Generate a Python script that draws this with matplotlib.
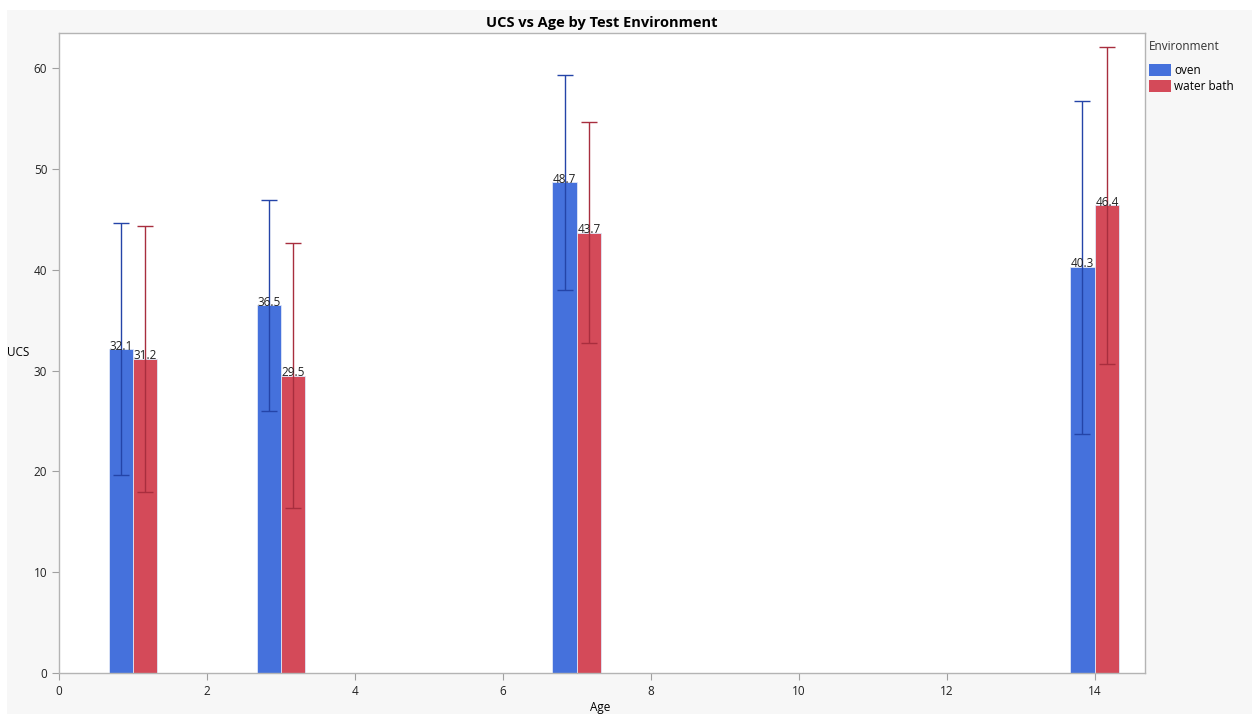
import matplotlib
matplotlib.use("Agg")
import matplotlib.pyplot as plt
import numpy as np
from matplotlib.patches import Patch, Rectangle

# data
ages = [1, 3, 7, 14]
environments = ["oven", "water bath"]
ucs_oven = [32.1, 36.5, 48.7, 40.3]
ucs_water = [31.2, 29.5, 43.7, 46.4]
oven_lo = [19.6, 26.0, 38.0, 23.7]
oven_hi = [44.6, 46.9, 59.3, 56.8]
water_lo = [18.0, 16.4, 32.7, 30.7]
water_hi = [44.4, 42.7, 54.7, 62.1]

bar_colors = ["#4571DC", "#D44A59"]
err_colors = ["#2444A8", "#A82E3E"]
bar_w = 0.33

plt.rcParams['font.family'] = ['Open Sans', 'DejaVu Sans']

fig = plt.figure(figsize=(12.52, 7.15), dpi=100)
fig.patch.set_facecolor("white")
# light grey panel behind the plot, like the report frame
fig.add_artist(Rectangle((7 / 1252, 1 / 715), 1 - 7 / 1252, 704 / 715,
                         transform=fig.transFigure, facecolor="#f7f7f7",
                         edgecolor="none", zorder=-10))

ax = fig.add_axes([59 / 1252, 42 / 715, (1145 - 59) / 1252, (673 - 33) / 715])
ax.set_facecolor("white")

x = np.array(ages, dtype=float)
series = [
    (x - bar_w / 2, ucs_oven, oven_lo, oven_hi),
    (x + bar_w / 2, ucs_water, water_lo, water_hi),
]
for i, (pos, vals, lo, hi) in enumerate(series):
    ax.bar(pos, vals, width=bar_w, color=bar_colors[i], edgecolor="#dfe6f7",
           linewidth=0.6, zorder=2)
    vals = np.array(vals)
    yerr = [vals - np.array(lo), np.array(hi) - vals]
    ax.errorbar(pos, vals, yerr=yerr, fmt="none", ecolor=err_colors[i],
                elinewidth=1.0, capsize=6, capthick=1.0, zorder=3)
    for p, v in zip(pos, vals):
        ax.text(p, v - 0.35, f"{v:.1f}", ha="center", va="bottom",
                fontsize=8.5, color="#222222", zorder=4)

ax.set_xlim(0, 14.68)
ax.set_ylim(0, 63.5)
ax.set_xticks(range(0, 15, 2))
ax.set_yticks(range(0, 61, 10))
ax.tick_params(axis="both", labelsize=8.5, colors="#a0a0a0", labelcolor="#222222",
               length=5, width=0.8)
for side in ["left", "bottom", "top", "right"]:
    ax.spines[side].set_color("#b4b4b4")
    ax.spines[side].set_linewidth(1.0)

ax.set_title("UCS vs Age by Test Environment", fontsize=10.5, fontweight="bold",
             pad=4)
fig.text(18 / 1252, 1 - 353 / 715, "UCS", ha="center", va="center", fontsize=8.5)
fig.text(600 / 1252, 1 - 707 / 715, "Age", ha="center", va="center", fontsize=8.5)

handles = [Patch(facecolor=c, edgecolor="none") for c in bar_colors]
leg = fig.legend(handles, environments, title="Environment", loc="upper left",
                 bbox_to_anchor=(1149 / 1252, 1 - 40 / 715), frameon=False,
                 fontsize=8.5, title_fontsize=8.5, handlelength=1.9,
                 handleheight=1.1, handletextpad=0.25, labelspacing=0.25,
                 borderaxespad=0, borderpad=0, alignment="left")
leg.get_title().set_color("#333333")
leg._legend_box.sep = 8  # a bit more room below the legend title

fig.savefig("out.png", dpi=100, facecolor=fig.get_facecolor())
